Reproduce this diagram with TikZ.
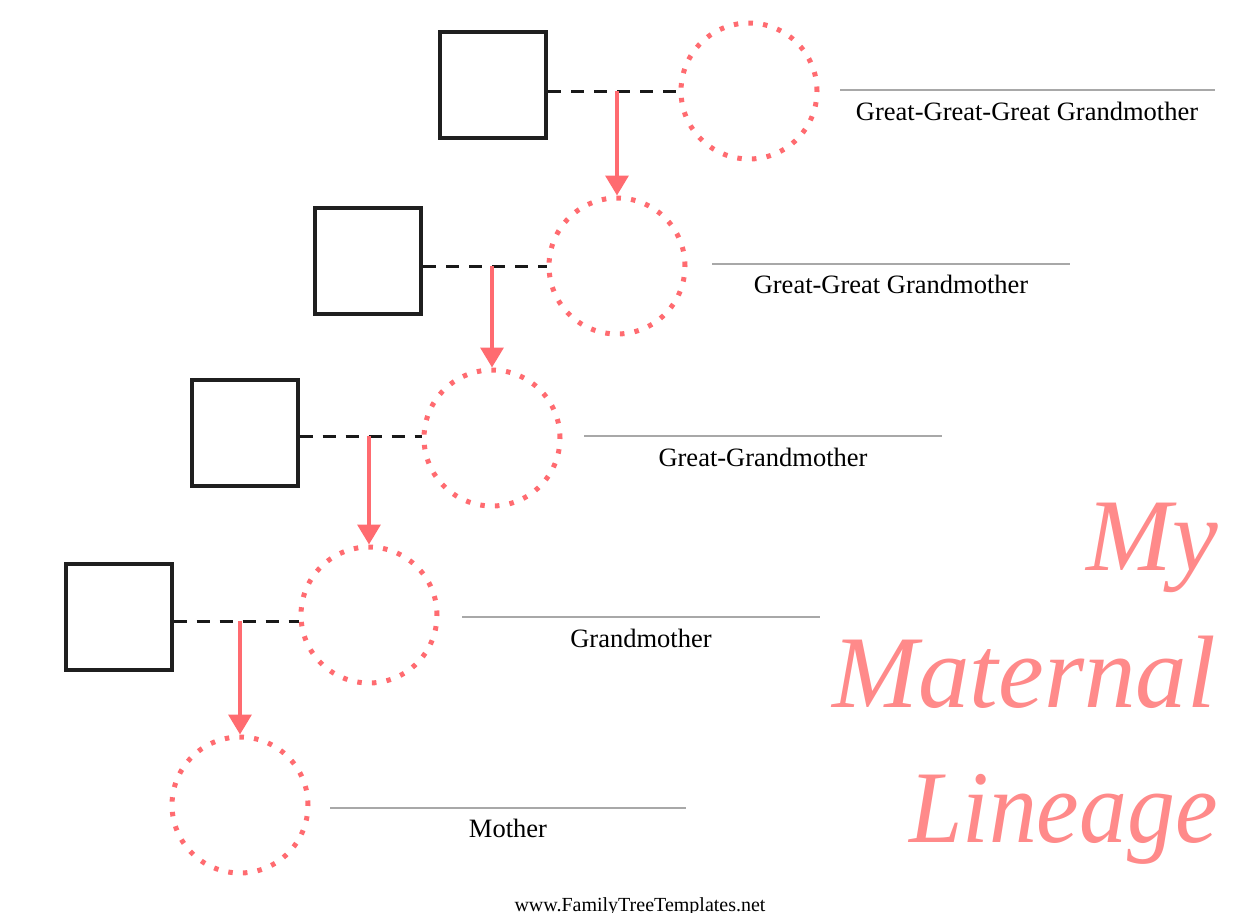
\documentclass[tikz,border=0pt]{standalone}
\usepackage{fontspec}
\setmainfont{Liberation Serif}
\usetikzlibrary{arrows.meta}
\definecolor{dotpink}{HTML}{FF6B70}
\definecolor{titlepink}{HTML}{FF8A8A}
\definecolor{rulegray}{HTML}{A8A8A8}
\tikzset{
  sqbox/.style={draw=black!88, line width=4pt, minimum size=106pt, inner sep=0pt, fill=white},
  dotcircle/.style={circle, draw=dotpink, line width=5pt, dash pattern=on 4.5pt off 10.2pt, minimum size=136pt, inner sep=0pt},
  dashlink/.style={draw=black!90, line width=3pt, dash pattern=on 13pt off 10pt},
  downarrow/.style={draw=dotpink, line width=3.5pt, -{Triangle[length=20pt,width=23pt]}},
  rulel/.style={draw=rulegray, line width=1.6pt},
  lbl/.style={font=\fontsize{26.5}{29}\selectfont, anchor=base, inner sep=0pt},
  ttl/.style={font=\itshape\fontsize{103}{110}\selectfont, text=titlepink, anchor=base east, inner sep=0pt}
}
\begin{document}
\begin{tikzpicture}[x=1pt,y=-1pt]
\useasboundingbox (0,0) rectangle (1235,913);
% squares
\node[sqbox] (s1) at (493,85) {};
\node[sqbox] (s2) at (368,261) {};
\node[sqbox] (s3) at (244.5,433) {};
\node[sqbox] (s4) at (118.5,617) {};
% circles
\node[dotcircle] (c1) at (749,91) {};
\node[dotcircle] (c2) at (617,266) {};
\node[dotcircle] (c3) at (492,438) {};
\node[dotcircle] (c4) at (369,615) {};
\node[dotcircle] (c5) at (240,805) {};
% dashed links
\draw[dashlink] (s1.east |- c1.west) -- (c1.west);
\draw[dashlink] (s2.east |- c2.west) -- (c2.west);
\draw[dashlink] (s3.east |- 0,436) -- (c3.west |- 0,436);
\draw[dashlink] (s4.east |- 0,621) -- (c4.west |- 0,621);
% arrows
\draw[downarrow] (c2.north |- c1.west) -- (c2.north);
\draw[downarrow] (c3.north |- c2.west) -- (c3.north);
\draw[downarrow] (c4.north |- 0,436) -- (c4.north);
\draw[downarrow] (c5.north |- 0,621) -- (c5.north);
% rules
\coordinate (r1a) at (840,90);  \coordinate (r1b) at (1215,90);
\coordinate (r2a) at (712,264); \coordinate (r2b) at (1070,264);
\coordinate (r3a) at (584,436); \coordinate (r3b) at (942,436);
\coordinate (r4a) at (462,617); \coordinate (r4b) at (820,617);
\coordinate (r5a) at (330,808); \coordinate (r5b) at (686,808);
\draw[rulel] (r1a) -- (r1b);
\draw[rulel] (r2a) -- (r2b);
\draw[rulel] (r3a) -- (r3b);
\draw[rulel] (r4a) -- (r4b);
\draw[rulel] (r5a) -- (r5b);
% labels
\node[lbl] (l1) at (1027,120) {Great-Great-Great Grandmother};
\node[lbl] (l2) at (891,293) {Great-Great Grandmother};
\node[lbl] (l3) at (763,466) {Great-Grandmother};
\node[lbl] (l4) at (641,647) {Grandmother};
\node[lbl] (l5) at (508,837) {Mother};
% title
\node[ttl] (t1) at (1218,570) {My};
\node[ttl] (t2) at (1216,707) {Maternal};
\node[ttl] (t3) at (1218,842) {\scalebox{0.93}[1]{Lineage}};
% footer
\node[font=\fontsize{20}{22}\selectfont, anchor=base, inner sep=0pt] (ft) at (640,911) {www.FamilyTreeTemplates.net};
\end{tikzpicture}
\end{document}
